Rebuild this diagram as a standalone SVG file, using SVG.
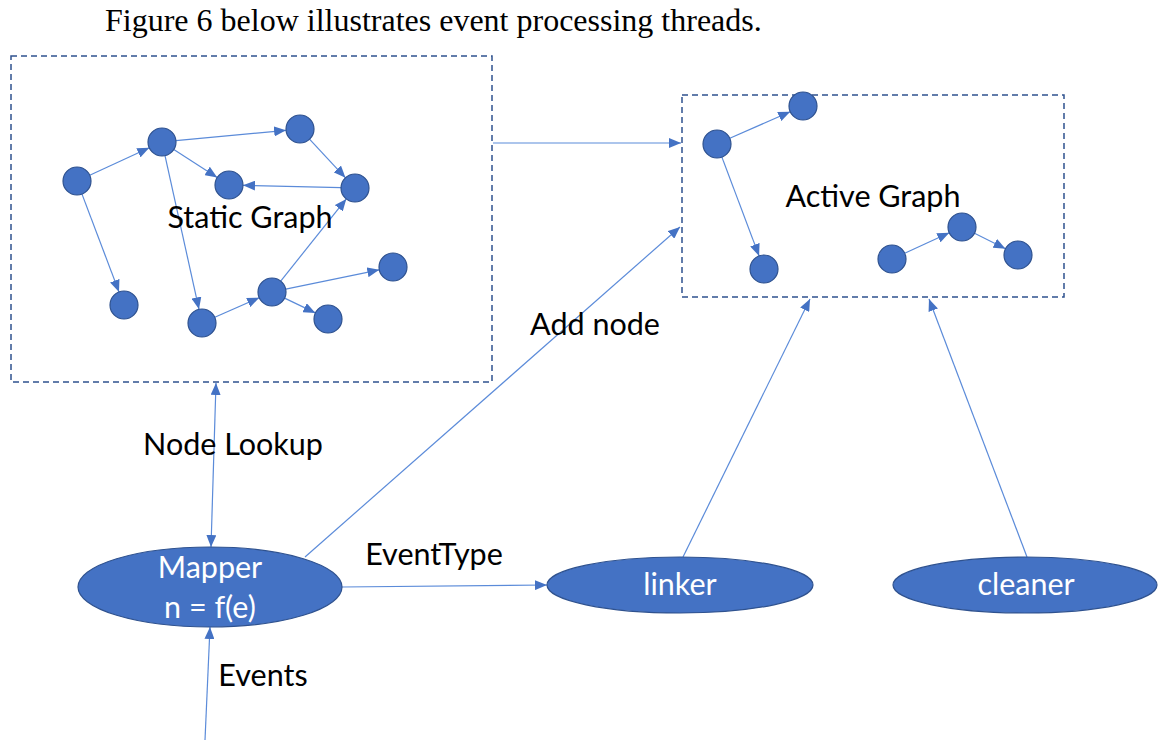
<svg xmlns="http://www.w3.org/2000/svg" width="1159" height="740" viewBox="0 0 1159 740">
  <style>
    .box { fill: none; stroke: #2F528F; stroke-width: 1.5; stroke-dasharray: 6 4; }
    .gn { fill: #4472C4; stroke: #2F528F; stroke-width: 1.2; }
    .proc { fill: #4472C4; stroke: #2F528F; stroke-width: 1.2; }
    .edge { fill: none; stroke: #5B8BD9; stroke-width: 1.2; marker-end: url(#arr); }
    .dbl { marker-start: url(#arrS); }
    .lbl { font-family: Lato, "Open Sans", sans-serif; font-size: 30.5px; fill: #000; text-anchor: middle; }
    .wl { font-family: Lato, "Open Sans", sans-serif; font-size: 30.5px; fill: #fff; text-anchor: middle; }
    .title { font-family: "Liberation Serif", serif; font-size: 32px; fill: #000; }
  </style>
  <defs>
    <marker id="arr" markerUnits="userSpaceOnUse" markerWidth="12" markerHeight="10" viewBox="0 0 12 10" refX="12" refY="5" orient="auto">
      <path d="M0,0 L12,5 L0,10 z" fill="#4472C4"/>
    </marker>
    <marker id="arrS" markerUnits="userSpaceOnUse" markerWidth="12" markerHeight="10" viewBox="0 0 12 10" refX="0" refY="5" orient="auto">
      <path d="M12,0 L0,5 L12,10 z" fill="#4472C4"/>
    </marker>
  </defs>
  <rect width="1159" height="740" fill="#fff"/>
  <text class="title" x="105" y="31">Figure 6 below illustrates event processing threads.</text>

  <g id="connectors">
    <!-- static graph edges -->
    <line class="edge" x1="89.7" y1="175.2" x2="149.3" y2="147.8"/>
    <line class="edge" x1="175.9" y1="140.7" x2="286.1" y2="130.3"/>
    <line class="edge" x1="173.8" y1="149.6" x2="217.2" y2="177.4"/>
    <line class="edge" x1="309.5" y1="139.2" x2="345.5" y2="177.8"/>
    <line class="edge" x1="341" y1="187.7" x2="243" y2="185.3"/>
    <line class="edge" x1="82" y1="194.1" x2="119" y2="291.9"/>
    <line class="edge" x1="165" y1="155.7" x2="199" y2="309.3"/>
    <line class="edge" x1="214.8" y1="317.3" x2="259.2" y2="297.7"/>
    <line class="edge" x1="280.7" y1="281.1" x2="346.3" y2="198.9"/>
    <line class="edge" x1="285.7" y1="289.2" x2="379.3" y2="269.8"/>
    <line class="edge" x1="284.6" y1="298.1" x2="315.4" y2="312.9"/>
    <!-- active graph edges -->
    <line class="edge" x1="729.8" y1="138.3" x2="790.2" y2="111.7"/>
    <line class="edge" x1="721.9" y1="157.1" x2="759.1" y2="255.9"/>
    <line class="edge" x1="904.7" y1="253.2" x2="949.3" y2="232.8"/>
    <line class="edge" x1="974.5" y1="233.3" x2="1005.5" y2="248.7"/>
    <!-- process connectors -->
    <line class="edge" x1="493" y1="143" x2="681" y2="143"/>
    <line class="edge dbl" x1="216" y1="383" x2="211" y2="547"/>
    <line class="edge" x1="205" y1="740" x2="210" y2="627"/>
    <line class="edge" x1="305" y1="557" x2="680" y2="227"/>
    <line class="edge" x1="342" y1="587" x2="547" y2="585"/>
    <line class="edge" x1="683" y1="557" x2="810" y2="299"/>
    <line class="edge" x1="1027" y1="557" x2="929" y2="299"/>
  </g>

  <g id="static-graph">
    <rect class="box" x="11" y="56" width="481" height="326"/>
    <circle class="gn" cx="77" cy="181" r="14"/>
    <circle class="gn" cx="162" cy="142" r="14"/>
    <circle class="gn" cx="300" cy="129" r="14"/>
    <circle class="gn" cx="229" cy="185" r="14"/>
    <circle class="gn" cx="355" cy="188" r="14"/>
    <circle class="gn" cx="124" cy="305" r="14"/>
    <circle class="gn" cx="202" cy="323" r="14"/>
    <circle class="gn" cx="272" cy="292" r="14"/>
    <circle class="gn" cx="393" cy="267" r="14"/>
    <circle class="gn" cx="328" cy="319" r="14"/>
    <text class="lbl" x="250" y="228">Static Graph</text>
  </g>

  <g id="active-graph">
    <rect class="box" x="682" y="95" width="382" height="202"/>
    <circle class="gn" cx="717" cy="144" r="14"/>
    <circle class="gn" cx="803" cy="106" r="14"/>
    <circle class="gn" cx="764" cy="269" r="14"/>
    <circle class="gn" cx="892" cy="259" r="14"/>
    <circle class="gn" cx="962" cy="227" r="14"/>
    <circle class="gn" cx="1018" cy="255" r="14"/>
    <text class="lbl" x="873" y="207">Active Graph</text>
  </g>

  <g id="mapper">
    <ellipse class="proc" cx="210" cy="587" rx="132" ry="40"/>
    <text class="wl" x="210" y="578">Mapper</text>
    <text class="wl" x="210" y="618">n = f(e)</text>
  </g>

  <g id="linker">
    <ellipse class="proc" cx="680" cy="585" rx="133" ry="28"/>
    <text class="wl" x="680" y="595">linker</text>
  </g>

  <g id="cleaner">
    <ellipse class="proc" cx="1025" cy="585" rx="132" ry="28"/>
    <text class="wl" x="1026" y="595">cleaner</text>
  </g>

  <g id="labels">
    <text class="lbl" x="233" y="455">Node Lookup</text>
    <text class="lbl" x="434" y="565">EventType</text>
    <text class="lbl" x="263" y="686">Events</text>
    <text class="lbl" x="595" y="335">Add node</text>
  </g>
</svg>
